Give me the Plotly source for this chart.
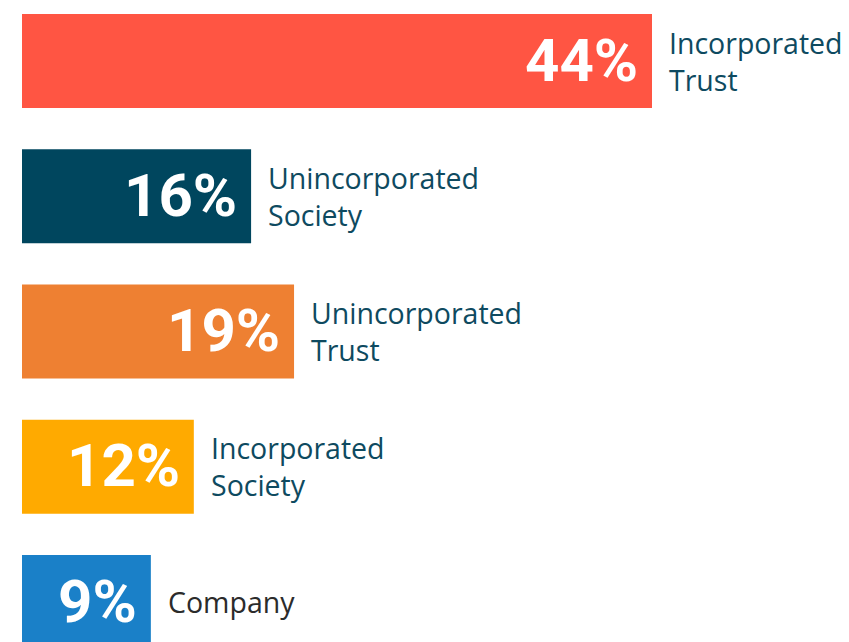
import plotly.graph_objects as go

categories = ["Incorporated<br>Trust", "Unincorporated<br>Society", "Unincorporated<br>Trust",
              "Incorporated<br>Society", "Company"]
values = [44, 16, 19, 12, 9]
pct_labels = ["44%", "16%", "19%", "12%", "9%"]
bar_colors = ["#FF5543", "#00465E", "#EE8032", "#FFAA00", "#1A80C8"]
label_colors = ["#0E4A60", "#0E4A60", "#0E4A60", "#0E4A60", "#2B2B2B"]

positions = list(range(len(categories)))

fig = go.Figure()
fig.add_trace(go.Bar(
    x=values, y=positions, orientation="h",
    marker=dict(color=bar_colors, line=dict(width=0)),
    width=0.695, hoverinfo="skip",
))

for i, (v, p, c, lc) in enumerate(zip(values, pct_labels, categories, label_colors)):
    fig.add_annotation(x=v, y=i, text=p, xanchor="right", yanchor="middle",
                       xshift=-12, yshift=1, showarrow=False,
                       font=dict(family="Roboto, Open Sans, sans-serif", size=60, color="white", weight="bold"))
    fig.add_annotation(x=v, y=i, text=c, xanchor="left", yanchor="middle", align="left",
                       xshift=15, showarrow=False,
                       font=dict(family="Open Sans, Noto Sans, sans-serif", size=28.5, color=lc))

px_per_unit_x = 630 / 44
px_per_unit_y = 135.25
fig.update_layout(
    width=849, height=642,
    margin=dict(l=0, r=0, t=0, b=0),
    paper_bgcolor="white", plot_bgcolor="white",
    showlegend=False,
    xaxis=dict(range=[-22 / px_per_unit_x, (849 - 22) / px_per_unit_x], visible=False, fixedrange=True),
    yaxis=dict(range=[4 + 40 / px_per_unit_y, -61 / px_per_unit_y], visible=False, fixedrange=True),
)

fig.write_html("out.html")
